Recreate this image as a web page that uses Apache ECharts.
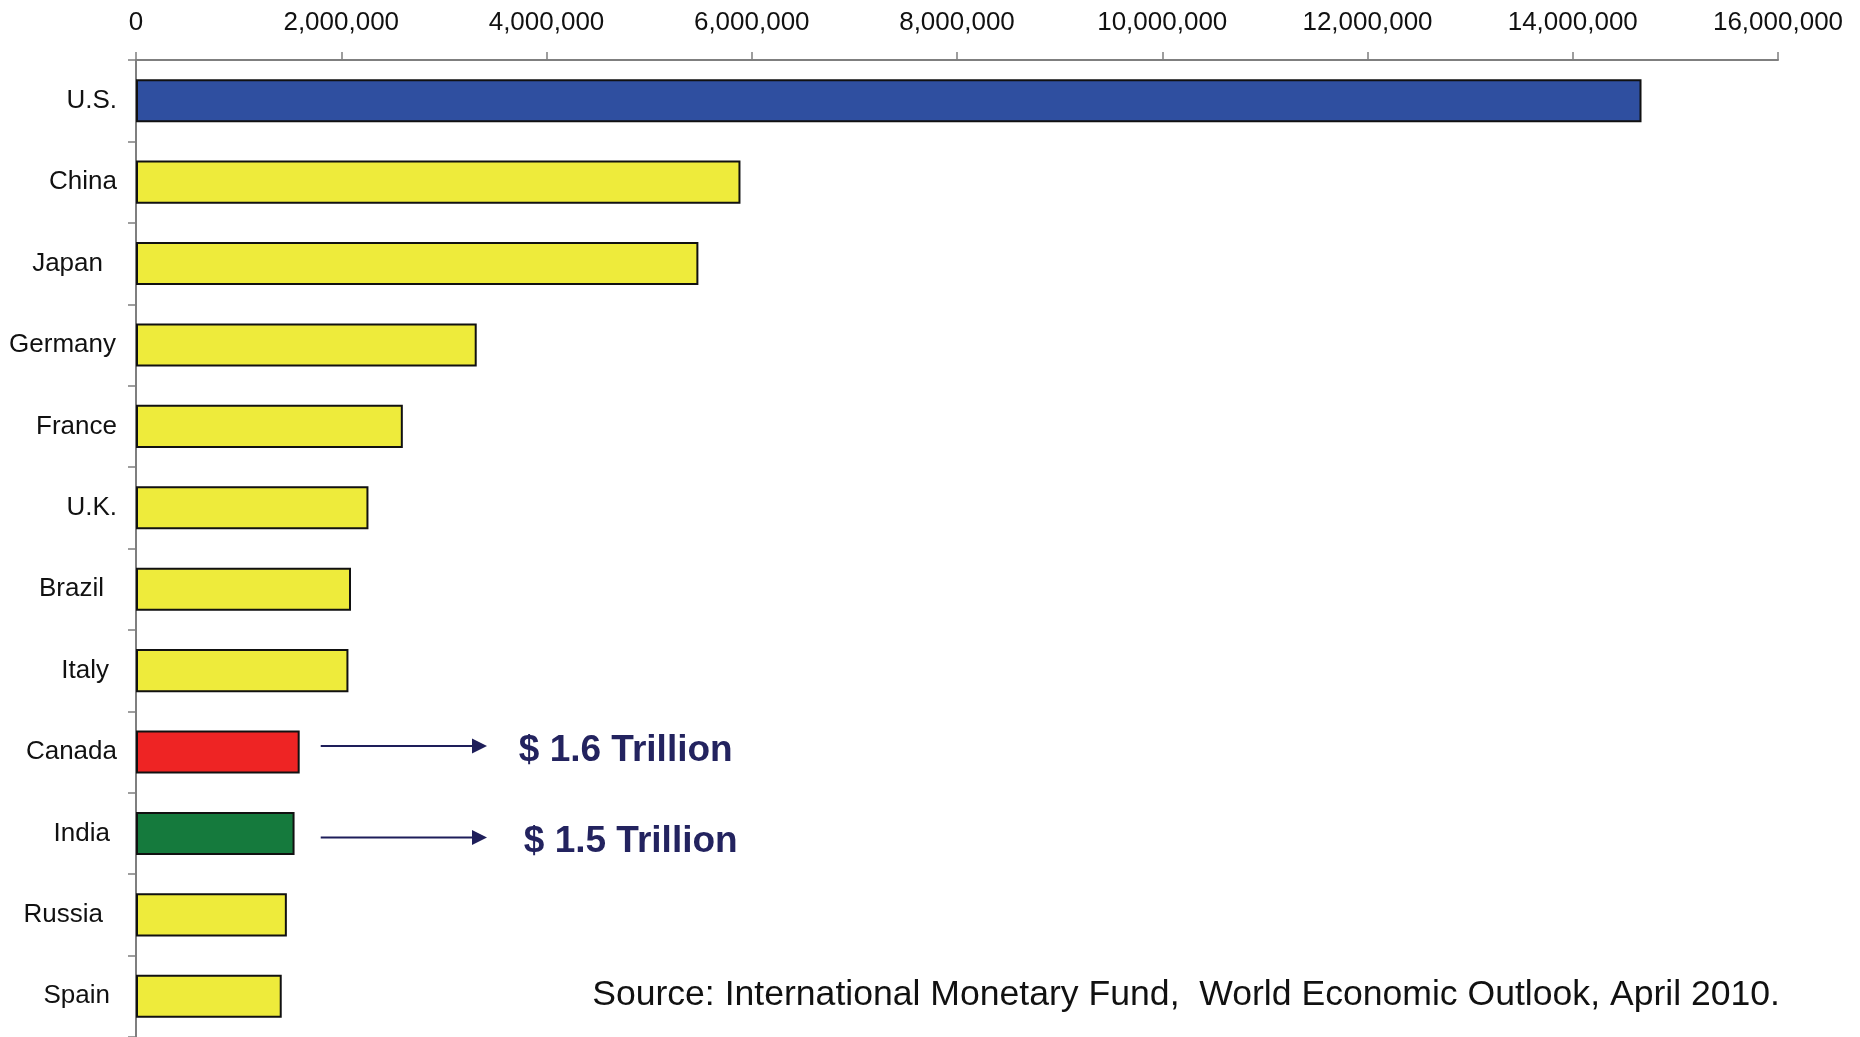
<!DOCTYPE html>
<html>
<head>
<meta charset="utf-8">
<script src="https://cdn.jsdelivr.net/npm/echarts@6/dist/echarts.min.js"></script>
<style>
html,body{margin:0;padding:0;background:#fff;}
#main{width:1860px;height:1037px;}
</style>
</head>
<body>
<div id="main"></div>
<script>
const categories = ['U.S.', 'China', 'Japan', 'Germany', 'France', 'U.K.', 'Brazil', 'Italy', 'Canada', 'India', 'Russia', 'Spain'];
const gdp = [14670000, 5890000, 5480000, 3320000, 2600000, 2265000, 2095000, 2070000, 1595000, 1545000, 1470000, 1420000];
const barColors = ['#2F4FA0', '#EEEB3B', '#EEEB3B', '#EEEB3B', '#EEEB3B', '#EEEB3B', '#EEEB3B', '#EEEB3B', '#EE2424', '#157A3D', '#EEEB3B', '#EEEB3B'];
const labelPad = [0, 0, 14, 1, 0, 0, 13, 8, 0, 7, 14, 7];
const annotations = [
  { category: 'Canada', text: '$ 1.6 Trillion', arrowDy: -6, textDx: 0, textDy: -1 },
  { category: 'India', text: '$ 1.5 Trillion', arrowDy: 4, textDx: 5, textDy: 8 }
];
const sourceText = 'Source: International Monetary Fund,  World Economic Outlook, April 2010.';

const FONT = '"Liberation Sans", Arial, sans-serif';
const chart = echarts.init(document.getElementById('main'));

const rich = {};
labelPad.forEach((p, i) => {
  rich['p' + i] = { padding: [0, p, 0, 0], fontFamily: FONT, fontSize: 26, color: '#111' };
});

chart.setOption({
  backgroundColor: '#ffffff',
  animation: false,
  grid: { left: 136, right: 82, top: 60, bottom: 0, containLabel: false },
  xAxis: {
    type: 'value',
    position: 'top',
    min: 0,
    max: 16000000,
    interval: 2000000,
    axisLine: { show: true, lineStyle: { color: '#7f7f7f', width: 2 } },
    axisTick: { show: true, length: 8, lineStyle: { color: '#7f7f7f', width: 1.5 } },
    splitLine: { show: false },
    axisLabel: {
      margin: 24,
      fontFamily: FONT,
      fontSize: 26,
      color: '#111',
      formatter: v => v.toLocaleString('en-US')
    }
  },
  yAxis: {
    type: 'category',
    inverse: true,
    data: categories,
    axisLine: { show: true, lineStyle: { color: '#7f7f7f', width: 2 } },
    axisTick: { show: true, length: 8, lineStyle: { color: '#7f7f7f', width: 1.5 } },
    axisLabel: {
      margin: 19,
      fontFamily: FONT,
      fontSize: 26,
      color: '#111',
      rich: rich,
      formatter: (name) => '{p' + categories.indexOf(name) + '|' + name + '}'
    }
  },
  series: [{
    type: 'bar',
    data: gdp.map((v, i) => ({ value: v, itemStyle: { color: barColors[i] } })),
    barWidth: '53%',
    itemStyle: { borderColor: '#111', borderWidth: 2 }
  }]
});

function drawAnnotations() {
  const g = [];
  annotations.forEach(a => {
    const p0 = chart.convertToPixel({ gridIndex: 0 }, [1800000, a.category]);
    const p1 = chart.convertToPixel({ gridIndex: 0 }, [3420000, a.category]);
    const pt = chart.convertToPixel({ gridIndex: 0 }, [3730000, a.category]);
    const y = p0[1] + a.arrowDy;
    g.push({
      type: 'line',
      shape: { x1: p0[0], y1: y, x2: p1[0] - 14, y2: y },
      style: { stroke: '#1E1E5A', lineWidth: 2 }
    });
    g.push({
      type: 'polygon',
      shape: { points: [[p1[0] - 15, y - 7.5], [p1[0], y], [p1[0] - 15, y + 7.5]] },
      style: { fill: '#1E1E5A' }
    });
    g.push({
      type: 'text',
      x: pt[0] + a.textDx,
      y: pt[1] + a.textDy,
      style: {
        text: a.text,
        fontFamily: FONT,
        fontWeight: 'bold',
        fontSize: 37,
        fill: '#23235F',
        textAlign: 'left',
        textVerticalAlign: 'middle'
      }
    });
  });
  const right = chart.convertToPixel({ gridIndex: 0 }, [16000000, 'Spain']);
  g.push({
    type: 'text',
    x: right[0] + 2,
    y: right[1] - 1,
    style: {
      text: sourceText,
      fontFamily: FONT,
      fontSize: 35.6,
      fill: '#111',
      textAlign: 'right',
      textVerticalAlign: 'middle'
    }
  });
  chart.setOption({ graphic: g });
}
drawAnnotations();
</script>
</body>
</html>
